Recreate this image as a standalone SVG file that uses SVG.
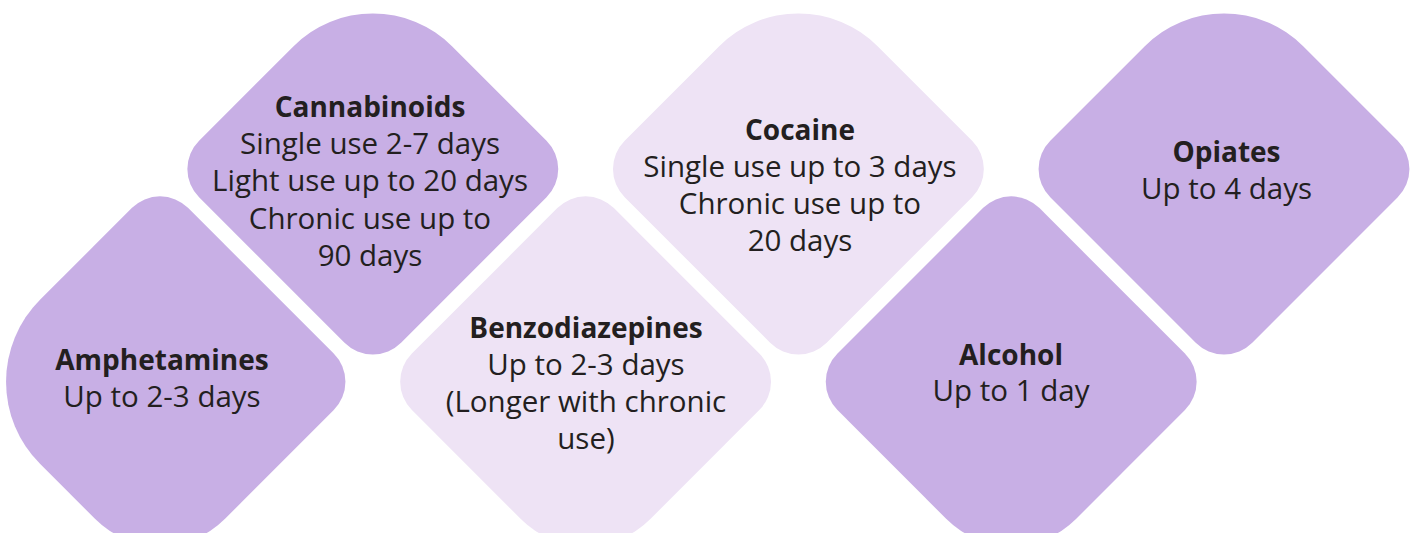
<svg xmlns="http://www.w3.org/2000/svg" xmlns:xlink="http://www.w3.org/1999/xlink" width="1416" height="533" viewBox="0 0 1416 533">
<style>
.dark{fill:#C8AFE5}
.light{fill:#EEE3F5}
text{font-family:"Open Sans","Noto Sans","Liberation Sans",sans-serif;font-size:29.5px;fill:#231F20;text-anchor:middle}
.t{font-weight:700;font-size:28px}
</style>
<defs>
<path id="shTop" d="M 79.20 -122.80 L 173.72 -28.28 A 40 40 0 0 1 173.72 28.28 L 28.28 173.72 A 40 40 0 0 1 -28.28 173.72 L -173.72 28.28 A 40 40 0 0 1 -173.72 -28.28 L -79.20 -122.80 A 112 112 0 0 1 79.20 -122.80 Z"/>
<path id="shBot" d="M 28.28 -173.72 L 173.72 -28.28 A 40 40 0 0 1 173.72 28.28 L 65.05 136.95 A 92 92 0 0 1 -65.05 136.95 L -173.72 28.28 A 40 40 0 0 1 -173.72 -28.28 L -28.28 -173.72 A 40 40 0 0 1 28.28 -173.72 Z"/>
<path id="shAmph" d="M 28.28 -173.72 L 173.72 -28.28 A 40 40 0 0 1 173.72 28.28 L 65.05 136.95 A 92 92 0 0 1 -65.05 136.95 L -119.98 82.02 A 116 116 0 0 1 -119.98 -82.02 L -28.28 -173.72 A 40 40 0 0 1 28.28 -173.72 Z"/>
</defs>
<g id="connectors"></g>
<g id="amphetamines">
<use href="#shAmph" xlink:href="#shAmph" x="160" y="381.8" class="dark"/>
<text x="162" y="370" class="t">Amphetamines</text>
<text x="162" y="407">Up to 2-3 days</text>
</g>
<g id="cannabinoids">
<use href="#shTop" xlink:href="#shTop" x="372.8" y="169" class="dark"/>
<text x="370" y="116.5" class="t">Cannabinoids</text>
<text x="370" y="153.5">Single use 2-7 days</text>
<text x="370" y="191">Light use up to 20 days</text>
<text x="370" y="228.5">Chronic use up to</text>
<text x="370" y="266">90 days</text>
</g>
<g id="benzodiazepines">
<use href="#shBot" xlink:href="#shBot" x="585.6" y="381.8" class="light"/>
<text x="586" y="337.5" class="t">Benzodiazepines</text>
<text x="586" y="374.5">Up to 2-3 days</text>
<text x="586" y="411.5">(Longer with chronic</text>
<text x="586" y="448.5">use)</text>
</g>
<g id="cocaine">
<use href="#shTop" xlink:href="#shTop" x="798.4" y="169" class="light"/>
<text x="800" y="139.5" class="t">Cocaine</text>
<text x="800" y="176.5">Single use up to 3 days</text>
<text x="800" y="214">Chronic use up to</text>
<text x="800" y="251">20 days</text>
</g>
<g id="alcohol">
<use href="#shBot" xlink:href="#shBot" x="1011.2" y="381.8" class="dark"/>
<text x="1011" y="364.5" class="t">Alcohol</text>
<text x="1011" y="401">Up to 1 day</text>
</g>
<g id="opiates">
<use href="#shTop" xlink:href="#shTop" x="1224" y="169" class="dark"/>
<text x="1226.5" y="162" class="t">Opiates</text>
<text x="1226.5" y="199">Up to 4 days</text>
</g>
</svg>
